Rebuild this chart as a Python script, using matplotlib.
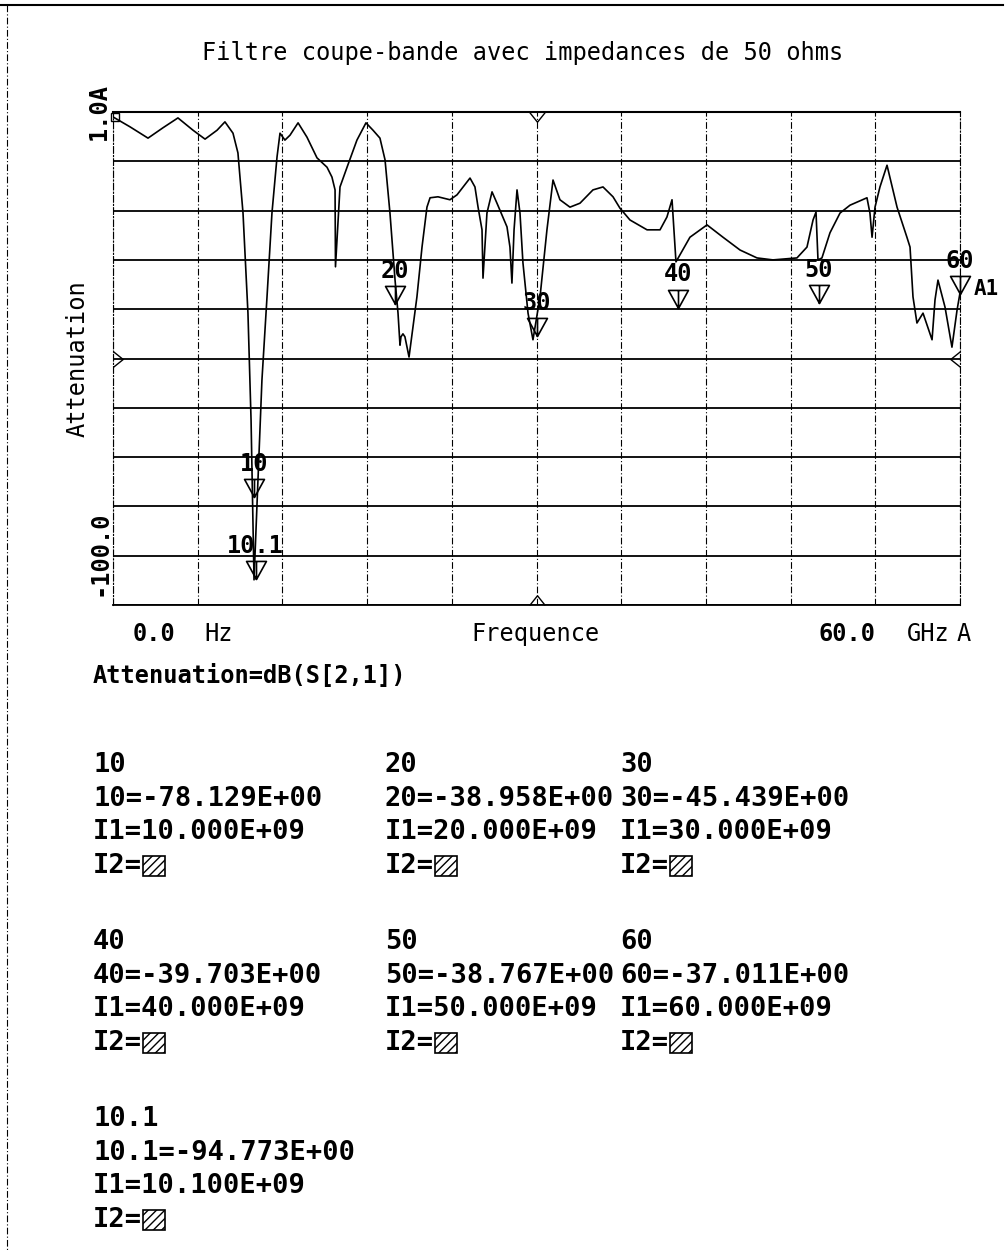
import numpy as np
import matplotlib.pyplot as plt
from matplotlib.patches import Rectangle

# courbe dB(S[2,1])
freq = [0.0, 1.20, 2.48, 3.54, 4.60, 5.67, 6.52, 7.37, 7.93, 8.50, 8.85, 9.21,
        9.56, 9.78, 9.99, 10.27, 10.55, 10.91, 11.26, 11.62, 11.83, 12.18, 12.54,
        13.11, 13.74, 14.45, 15.16, 15.51, 15.73, 15.76, 16.08, 16.58, 17.28,
        17.92, 18.42, 18.91, 19.27, 19.62, 19.98, 20.19, 20.33, 20.40, 20.54,
        20.68, 20.97, 21.53, 21.89, 22.24, 22.46, 23.02, 23.87, 24.37, 25.29,
        25.64, 25.86, 26.14, 26.21, 26.49, 26.85, 27.20, 27.91, 28.12, 28.26,
        28.41, 28.62, 28.83, 29.04, 29.40, 29.75, 30.25, 30.74, 31.17, 31.66,
        32.37, 33.08, 34.00, 34.71, 35.42, 35.91, 36.62, 37.83, 38.75, 39.24,
        39.60, 39.88, 40.87, 42.08, 43.21, 44.42, 45.62, 46.75, 48.45, 49.16,
        49.59, 49.80, 49.94, 50.22, 50.79, 51.50, 52.21, 53.41, 53.62, 53.77,
        53.98, 54.33, 54.83, 55.54, 56.24, 56.46, 56.67, 56.95, 57.38, 58.02,
        58.23, 58.44, 58.94, 59.43, 59.79, 60.0]
atten = [-1.0, -3.0, -5.3, -3.2, -1.2, -3.7, -5.5, -3.7, -2.0, -4.3, -8.3, -20.5,
         -40.8, -62.5, -94.9, -74.6, -54.4, -37.5, -20.5, -9.1, -4.3, -5.7, -4.7,
         -2.2, -5.1, -9.3, -11.2, -13.2, -15.8, -31.4, -15.2, -11.2, -5.7,
         -2.2, -3.7, -5.3, -9.7, -20.5, -34.1, -40.8, -47.3, -45.6, -45.0,
         -45.6, -49.7, -37.5, -27.4, -19.3, -17.4, -17.2, -17.8, -16.8, -13.4,
         -15.2, -19.3, -23.9, -33.7, -20.5, -16.2, -18.5, -23.3, -27.4, -34.7,
         -23.9, -15.8, -20.5, -30.6, -40.8, -46.2, -37.5, -23.9, -13.8, -17.8,
         -19.3, -18.5, -15.8, -15.2, -17.2, -19.5, -21.9, -23.9, -23.9, -21.3,
         -17.8, -30.4, -25.4, -22.9, -25.4, -28.0, -29.6, -30.0, -29.6, -27.4,
         -21.9, -20.3, -30.0, -29.6, -24.5, -20.5, -18.9, -17.4, -20.5, -25.4,
         -19.3, -15.2, -10.8, -19.3, -25.4, -27.4, -37.5, -42.8, -40.8, -46.2,
         -38.1, -34.1, -39.6, -47.7, -40.2, -36.7]

# marqueurs
mk_names = ['10', '20', '30', '40', '50', '60', '10.1']
mk_freq = [10.0, 20.0, 30.0, 40.0, 50.0, 60.0, 10.1]
mk_db = [-78.129, -38.958, -45.439, -39.703, -38.767, -37.011, -94.773]
mk_val_txt = ['-78.129E+00', '-38.958E+00', '-45.439E+00', '-39.703E+00',
              '-38.767E+00', '-37.011E+00', '-94.773E+00']
mk_i1_txt = ['10.000E+09', '20.000E+09', '30.000E+09', '40.000E+09',
             '50.000E+09', '60.000E+09', '10.100E+09']

W, H = 1006, 1252
fig = plt.figure(figsize=(W / 100, H / 100), dpi=100)
mono = 'DejaVu Sans Mono'


def fx(px):
    return px / W


def fy(py):
    return 1 - py / H


# cadre de la page
bg = fig.add_axes([0, 0, 1, 1])
bg.set_xlim(0, W)
bg.set_ylim(H, 0)
bg.axis('off')
bg.plot([0, 1003], [5, 5], color='k', lw=1.5)
bg.plot([7, 7], [5, H], color='k', lw=0.8, ls=(0, (6, 2, 1, 2)))

ax = fig.add_axes([fx(113), fy(605), (960 - 113) / W, (605 - 112) / H])
ax.set_xlim(0, 60)
ax.set_ylim(-100, 0)
ax.set_xticks(np.arange(0, 61, 6))
ax.set_yticks(np.arange(-100, 1, 10))
ax.tick_params(length=0, labelbottom=False, labelleft=False)
ax.grid(axis='y', color='k', lw=1.3)
ax.grid(axis='x', color='k', lw=0.8, ls=(0, (6, 2, 1, 2)))
ax.spines['top'].set_linewidth(1.5)
ax.spines['bottom'].set_linewidth(1.3)
for s in ['left', 'right']:
    ax.spines[s].set_linewidth(0.8)
    ax.spines[s].set_linestyle((0, (6, 2, 1, 2)))

ax.plot(freq, atten, color='k', lw=1.2)

# petits reperes sur les axes
ax.plot([30], [0], marker=[(-0.8, 0), (0, -1), (0.8, 0)], ms=14, color='k',
        fillstyle='none', mew=1, clip_on=False)
ax.plot([30], [-100], marker=[(-0.8, 0), (0, 1), (0.8, 0)], ms=14, color='k',
        fillstyle='none', mew=1, clip_on=False)
ax.plot([0], [-50], marker=[(0, 0.8), (1, 0), (0, -0.8)], ms=14, color='k',
        fillstyle='none', mew=1, clip_on=False)
ax.plot([60], [-50], marker=[(0, 0.8), (-1, 0), (0, -0.8)], ms=14, color='k',
        fillstyle='none', mew=1, clip_on=False)
ax.plot([0.15], [-1.0], marker='s', ms=6, color='k', fillstyle='none', mew=1,
        clip_on=False)

tri = [(0, 0), (-0.55, 1), (0.55, 1), (0, 0), (0, 1)]
for name, f, v in zip(mk_names, mk_freq, mk_db):
    ax.plot([f], [v], marker=tri, ms=26, color='k', fillstyle='none', mew=1.2,
            clip_on=False)
    ax.annotate(name, (f, v), xytext=(0, 24), textcoords='offset points',
                ha='center', va='center', family=mono, weight='bold',
                fontsize=17, annotation_clip=False)
ax.text(61.0, -36.0, 'A1', family=mono, weight='bold',
        fontsize=15, ha='left', va='center', clip_on=False)

# textes
fig.text(fx(523), fy(53), 'Filtre coupe-bande avec impedances de 50 ohms',
         family=mono, fontsize=17, ha='center', va='center')
fig.text(fx(78), fy(359), 'Attenuation', family=mono, fontsize=17,
         rotation=90, ha='center', va='center')
fig.text(fx(99), fy(112), '1.0A', family=mono, fontsize=17, weight='bold',
         rotation=90, ha='center', va='center')
fig.text(fx(99), fy(553), '-100.0', family=mono, fontsize=17, weight='bold',
         rotation=90, ha='center', va='center')
fig.text(fx(133), fy(634), '0.0', family=mono, fontsize=17, weight='bold',
         ha='left', va='center')
fig.text(fx(204), fy(634), 'Hz', family=mono, fontsize=17, ha='left',
         va='center')
fig.text(fx(536), fy(634), 'Frequence', family=mono, fontsize=17,
         ha='center', va='center')
fig.text(fx(818), fy(634), '60.0', family=mono, fontsize=17, weight='bold',
         ha='left', va='center')
fig.text(fx(907), fy(634), 'GHz', family=mono, fontsize=17, ha='left',
         va='center')
fig.text(fx(957), fy(634), 'A', family=mono, fontsize=17, ha='left',
         va='center')
fig.text(fx(93), fy(676), 'Attenuation=dB(S[2,1])', family=mono, fontsize=17,
         weight='bold', ha='left', va='center')

# tableau des marqueurs
col_x = [93, 385, 620]
blk_y = [765, 942, 1119]
for i, name in enumerate(mk_names):
    x0 = col_x[i % 3]
    y0 = blk_y[i // 3]
    lines = [name, name + '=' + mk_val_txt[i], 'I1=' + mk_i1_txt[i], 'I2=']
    for k, t in enumerate(lines):
        fig.text(fx(x0), fy(y0 + k * 33.7), t, family=mono, fontsize=19.5,
                 weight='bold', ha='left', va='center')
    bg.add_patch(Rectangle((x0 + 50, y0 + 3 * 33.7 - 10), 22, 20,
                           facecolor='white', edgecolor='k', lw=1.2,
                           hatch='////'))

fig.savefig('out.png', dpi=100)
